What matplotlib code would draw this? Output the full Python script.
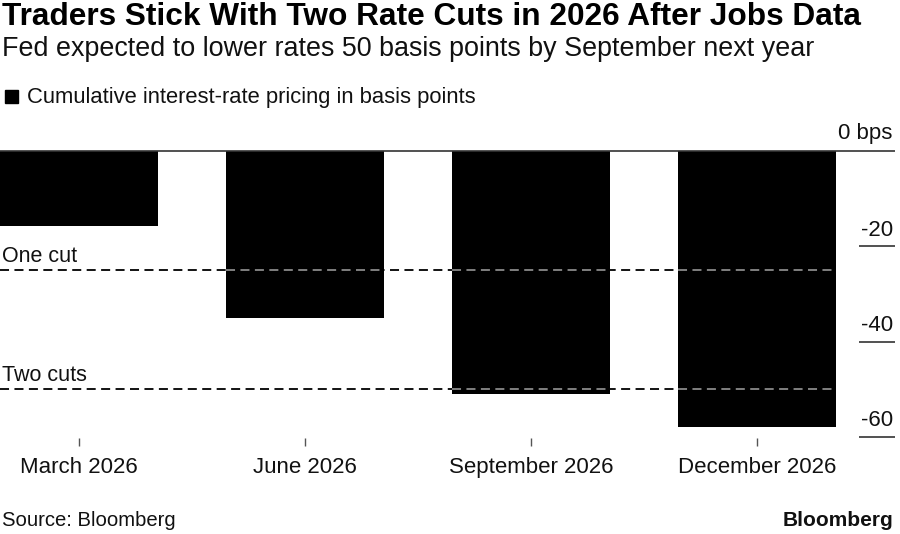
import matplotlib.pyplot as plt

plt.rcParams['font.family'] = ['Liberation Sans', 'DejaVu Sans']

months = ['March 2026', 'June 2026', 'September 2026', 'December 2026']
pricing = [-15.7, -35.1, -50.9, -57.8]
y_ticks = [-20, -40, -60]
cut_levels = [-25, -50]
cut_names = ['One cut', 'Two cuts']

W, H = 900, 534
fig = plt.figure(figsize=(W / 100, H / 100), dpi=100)

# axes: left edge at x=0, top (0 bps) at y=151, bottom at y=438
ax = fig.add_axes([0, 1 - 438 / H, 895 / W, (438 - 151) / H])
x = list(range(len(months)))
bw = 0.7
xmin, xmax = -0.35, 3.611
ax.set_xlim(xmin, xmax)
ax.set_ylim(-60.2, 0)

# dashed reference lines (behind bars)
for lvl, name in zip(cut_levels, cut_names):
    ax.hlines(lvl, xmin, x[-1] + bw / 2, colors='#000000', linestyles=(0, (5, 3)),
              linewidth=1.3, zorder=1)
    ax.text(xmin + 0.01, lvl + 2.9, name, fontsize=15.5, ha='left', va='center',
            color='#111111')

bars = ax.bar(x, pricing, width=bw, color='#000000', zorder=2)

# dashed lines show through the bars as grey
for lvl in cut_levels:
    for xi, v in zip(x, pricing):
        if v < lvl:
            ax.hlines(lvl, xi - bw / 2, xi + bw / 2, colors='#8a8a8a',
                      linestyles=(0, (5, 3)), linewidth=1.3, zorder=3)

# zero line and right-hand tick marks
ax.hlines(0, xmin, xmax, colors='#333333', linewidth=1.2, zorder=4, clip_on=False)
for t in y_ticks:
    ax.hlines(t, 3.451, xmax, colors='#222222', linewidth=1.1, zorder=4, clip_on=False)
    ax.text(xmax - 0.01, t + 3.4, str(t), fontsize=16, ha='right', va='center',
            color='#111111')
ax.text(xmax - 0.01, 3.7, '0 bps', fontsize=16, ha='right', va='center', color='#111111',
        clip_on=False)

for s in ax.spines.values():
    s.set_visible(False)
ax.set_yticks([])
ax.set_xticks(x)
ax.set_xticklabels(months, fontsize=16, color='#111111')
ax.tick_params(axis='x', length=6, width=1, color='#555555', pad=8)

# titles
fig.text(2 / W, 1 - 17 / H, 'Traders Stick With Two Rate Cuts in 2026 After Jobs Data',
         fontsize=22.8, fontweight='bold', ha='left', va='center')
fig.text(2 / W, 1 - 49 / H, 'Fed expected to lower rates 50 basis points by September next year',
         fontsize=19.4, ha='left', va='center', color='#111111')

# legend
fig.patches.append(plt.Rectangle((5 / W, 1 - 103 / H), 13 / W, 13 / H,
                                 transform=fig.transFigure, color='#000000'))
fig.text(27 / W, 1 - 97 / H, 'Cumulative interest-rate pricing in basis points',
         fontsize=15.8, ha='left', va='center', color='#111111')

# footer
fig.text(2 / W, 1 - 521 / H, 'Source: Bloomberg', fontsize=14.6, ha='left', va='center',
         color='#111111')
fig.text(893 / W, 1 - 520 / H, 'Bloomberg', fontsize=15, fontweight='bold',
         ha='right', va='center', color='#111111')

fig.savefig('out.png', dpi=100)
